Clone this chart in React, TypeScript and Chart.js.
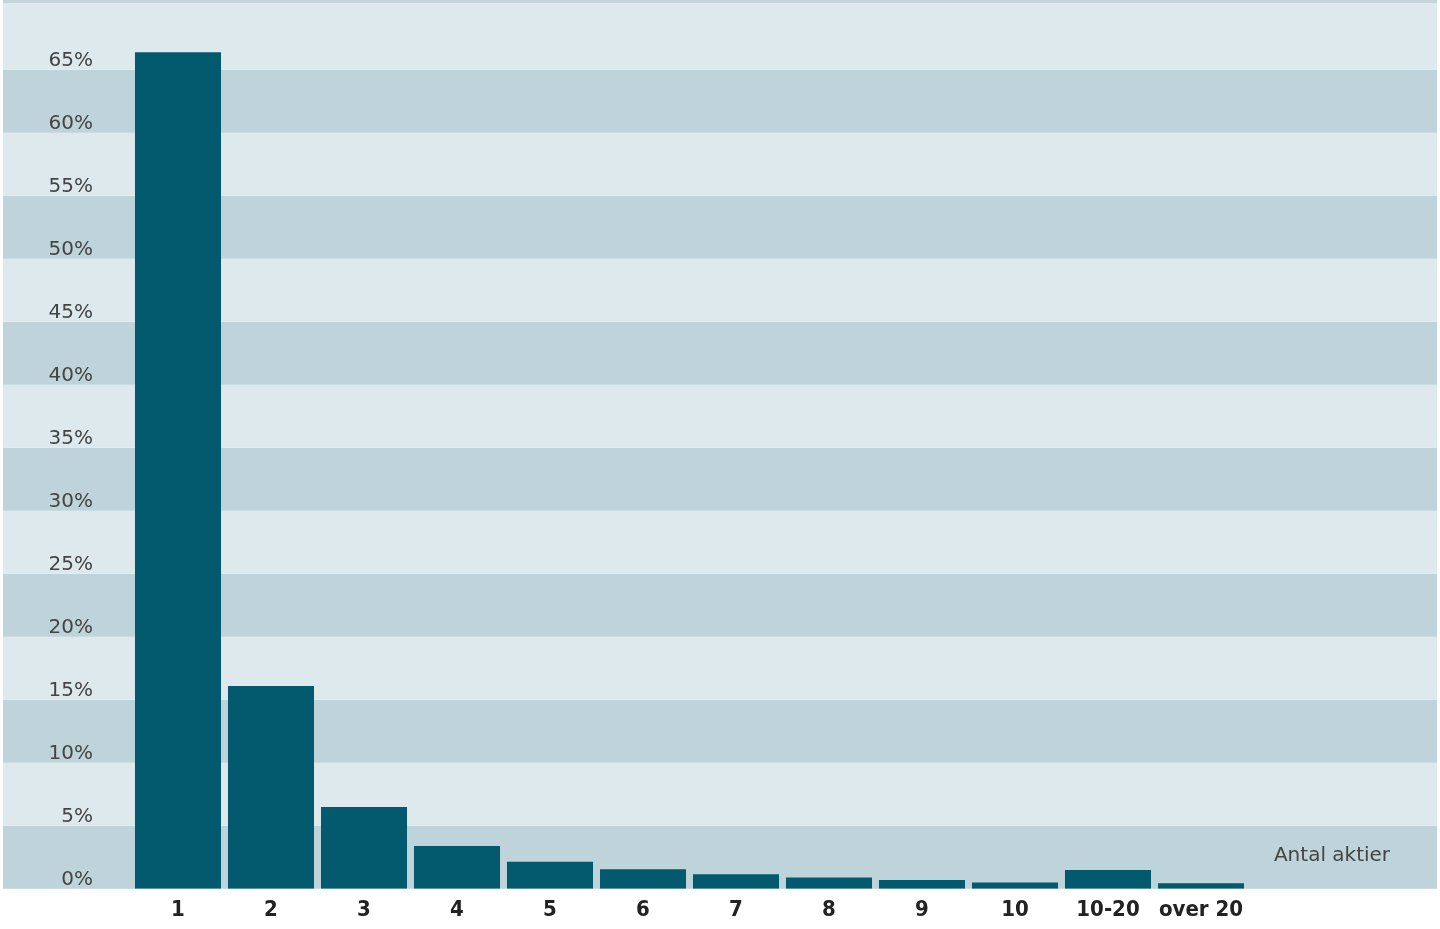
import React, { useEffect, useRef } from 'react';
import { Chart, registerables } from 'chart.js';
import type { Plugin } from 'chart.js';

Chart.register(...registerables);

const categories = ['1', '2', '3', '4', '5', '6', '7', '8', '9', '10', '10-20', 'over 20'];
const shares = [66.4, 16.1, 6.5, 3.4, 2.15, 1.55, 1.15, 0.9, 0.7, 0.5, 1.5, 0.45];
const yMax = 70;
const yStep = 5;
const axisTitle = 'Antal aktier';

const LIGHT = '#dde9ec';
const DARK = '#bed4da';
const BAR = '#03596d';

const bands: Plugin<'bar'> = {
  id: 'bands',
  beforeDraw(chart) {
    const { ctx, width, scales } = chart;
    const y = scales.y;
    ctx.save();
    ctx.fillStyle = '#ffffff';
    ctx.fillRect(0, 0, width, chart.height);
    for (let v = 0; v < yMax; v += yStep) {
      const y0 = y.getPixelForValue(v);
      const y1 = v + yStep >= yMax ? 0 : y.getPixelForValue(v + yStep);
      ctx.fillStyle = (v / yStep) % 2 === 0 ? DARK : LIGHT;
      ctx.fillRect(3, y1, width - 6, y0 - y1);
    }
    ctx.fillStyle = '#c4d4d8';
    ctx.fillRect(3, 0, width - 6, 3);
    ctx.restore();
  },
  afterDraw(chart) {
    const { ctx, width, scales } = chart;
    ctx.save();
    ctx.font = '20px "DejaVu Sans"';
    ctx.fillStyle = '#444444';
    ctx.textAlign = 'center';
    ctx.textBaseline = 'middle';
    ctx.fillText(axisTitle, width - 108, scales.y.getPixelForValue(2.6));
    ctx.restore();
  },
};

export default function App() {
  const canvasRef = useRef<HTMLCanvasElement>(null);

  useEffect(() => {
    if (!canvasRef.current) return;
    const chart = new Chart(canvasRef.current, {
      type: 'bar',
      data: {
        labels: categories,
        datasets: [
          {
            data: shares,
            backgroundColor: BAR,
            borderWidth: 0,
            barPercentage: 0.925,
            categoryPercentage: 1,
          },
        ],
      },
      options: {
        animation: false,
        responsive: true,
        maintainAspectRatio: false,
        devicePixelRatio: 1,
        layout: { padding: { top: 6.8, right: 192.5, left: 0, bottom: 0 } },
        plugins: { legend: { display: false }, tooltip: { enabled: false } },
        scales: {
          x: {
            grid: { display: false, drawTicks: false },
            border: { display: false },
            ticks: {
              padding: 8,
              color: '#222222',
              font: { family: '"DejaVu Sans Condensed", "DejaVu Sans"', size: 22, weight: 'bold' },
            },
            afterFit: (scale: any) => {
              scale.height = 40.2;
              scale.paddingLeft = 0;
              scale.paddingRight = 0;
            },
          },
          y: {
            min: 0,
            max: yMax,
            grid: { display: false, drawTicks: false },
            border: { display: false },
            ticks: {
              stepSize: yStep,
              padding: 38.5,
              labelOffset: -9,
              color: '#444444',
              font: { family: '"DejaVu Sans"', size: 20 },
              callback: (v) => (Number(v) >= yMax ? '' : `${v}%`),
            },
            afterFit: (scale: any) => {
              scale.width = 131.5;
              scale.paddingTop = 0;
              scale.paddingBottom = 0;
            },
          },
        },
      },
      plugins: [bands],
    });
    return () => chart.destroy();
  }, []);

  return (
    <div style={{ position: 'fixed', left: 0, top: 0, width: 1440, height: 929, background: '#fff' }}>
      <canvas ref={canvasRef}></canvas>
    </div>
  );
}
